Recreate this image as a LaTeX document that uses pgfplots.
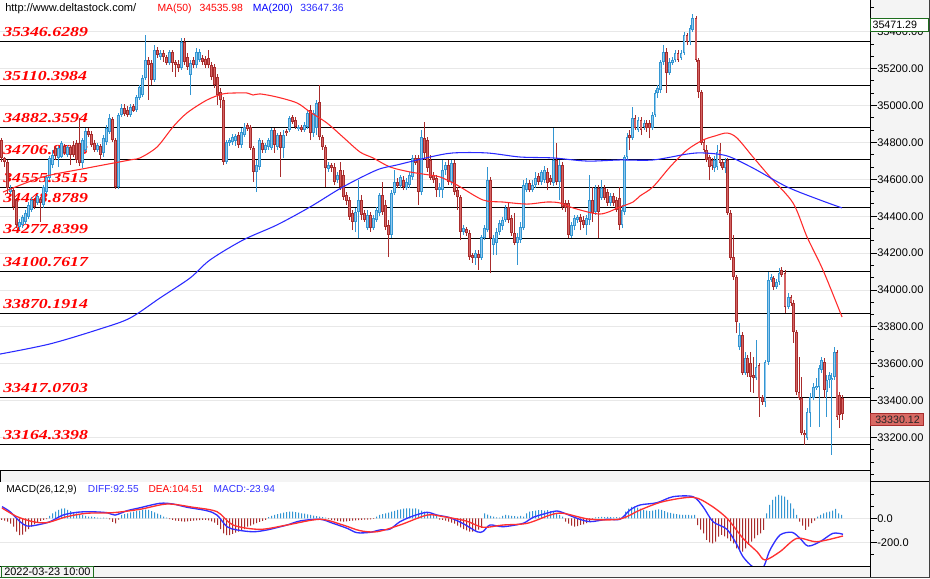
\documentclass[border=0pt]{standalone}
\usepackage{pgfplots}
\pgfplotsset{compat=1.18}
\usepackage{pgfplotstable}
\usepackage{fontspec}
\setmainfont{Liberation Sans}
\newfontfamily\lvlfont[FakeStretch=1.3]{Liberation Serif}

\definecolor{cup}{HTML}{3396D2}
\definecolor{cupfill}{HTML}{92C9EE}
\definecolor{cdn}{HTML}{A82C2C}
\definecolor{cdnfill}{HTML}{D46464}
\definecolor{ma50}{HTML}{FF2A2A}
\definecolor{ma200}{HTML}{2A2AFF}
\definecolor{panel}{HTML}{F4F4F4}
\definecolor{gridc}{HTML}{E8E8E8}
\definecolor{diffc}{HTML}{3030FF}
\definecolor{deac}{HTML}{FF3030}
\definecolor{boxgreen}{HTML}{1E6E1E}
\definecolor{pricebox}{HTML}{D96A64}

% candles: x (pixel column), open, high, low, close
\pgfplotstableread{
x o h l c
1.5 34813 34824 34694 34716
4.5 34716 34721 34667 34694
7.5 34694 34705 34521 34553
10.5 34531 34569 34521 34553
13.5 34542 34553 34434 34450
16.5 34488 34499 34336 34353
19.5 34342 34385 34325 34369
22.5 34353 34407 34336 34396
25.5 34369 34434 34358 34418
28.5 34396 34477 34385 34461
31.5 34434 34504 34423 34488
34.5 34488 34499 34439 34450
37.5 34472 34521 34461 34510
40.5 34493 34504 34369 34472
43.5 34461 34569 34445 34558
46.5 34531 34623 34521 34613
49.5 34607 34726 34596 34716
52.5 34678 34759 34661 34732
55.5 34770 34781 34705 34726
58.5 34716 34781 34667 34770
61.5 34721 34808 34716 34797
64.5 34781 34792 34732 34743
67.5 34732 34786 34721 34775
70.5 34775 34786 34678 34732
73.5 34786 34808 34721 34732
76.5 34797 34813 34688 34705
79.5 34797 34932 34672 34688
82.5 34688 34824 34661 34813
85.5 34759 34878 34748 34862
88.5 34862 34878 34829 34840
91.5 34846 34862 34775 34786
94.5 34797 34813 34748 34759
97.5 34759 34797 34748 34786
100.5 34781 34792 34705 34732
103.5 34743 34840 34721 34824
106.5 34802 34894 34786 34878
109.5 34857 34954 34846 34932
112.5 34927 34938 34802 34813
115.5 34813 34824 34548 34559
118.5 34559 34960 34548 34949
121.5 34949 35008 34938 34987
124.5 34987 35008 34943 34954
127.5 34976 34997 34938 34949
130.5 34949 35008 34938 34992
133.5 34997 35008 34965 34970
136.5 34976 35057 34965 35046
139.5 35041 35111 35030 35100
142.5 35057 35166 35046 35149
145.5 35149 35382 35138 35247
148.5 35247 35263 35030 35220
151.5 35231 35247 35111 35138
154.5 35138 35328 35128 35301
157.5 35301 35317 35258 35274
160.5 35263 35301 35247 35285
163.5 35285 35301 35236 35263
166.5 35263 35274 35220 35231
169.5 35231 35301 35220 35290
172.5 35290 35301 35182 35231
175.5 35236 35247 35155 35220
178.5 35225 35247 35182 35203
181.5 35203 35366 35193 35344
184.5 35344 35366 35220 35236
187.5 35263 35285 35193 35209
190.5 35166 35247 35057 35231
193.5 35247 35263 35203 35220
196.5 35220 35312 35203 35290
199.5 35247 35306 35236 35290
202.5 35258 35274 35220 35236
205.5 35252 35268 35203 35220
208.5 35258 35301 35203 35220
211.5 35220 35236 35138 35155
214.5 35209 35225 35095 35111
217.5 35155 35171 35003 35057
220.5 35073 35095 34987 35030
223.5 35030 35046 34678 34694
226.5 34694 34813 34683 34802
229.5 34797 34824 34781 34813
232.5 34802 34846 34786 34829
235.5 34808 34846 34781 34835
238.5 34840 34857 34770 34786
241.5 34786 34878 34770 34857
244.5 34840 34905 34829 34884
247.5 34894 34905 34862 34873
250.5 34884 34894 34759 34770
253.5 34770 34781 34586 34640
256.5 34640 34705 34531 34678
259.5 34667 34824 34651 34813
262.5 34797 34813 34743 34759
265.5 34759 34797 34743 34786
268.5 34775 34824 34759 34813
271.5 34770 34878 34759 34867
274.5 34867 34878 34743 34786
277.5 34775 34851 34759 34840
280.5 34840 34857 34613 34770
283.5 34770 34867 34716 34840
286.5 34862 34873 34835 34851
289.5 34867 34943 34857 34932
292.5 34938 34949 34900 34911
295.5 34922 34938 34873 34884
298.5 34873 34894 34862 34884
301.5 34884 34894 34857 34867
304.5 34867 34911 34857 34894
307.5 34884 34976 34873 34960
310.5 34976 35003 34813 34851
313.5 34851 34976 34829 34960
316.5 34878 35030 34840 35014
319.5 35019 35111 34813 34829
322.5 34829 34840 34759 34775
325.5 34775 34786 34559 34661
328.5 34656 34694 34640 34678
331.5 34678 34688 34640 34661
334.5 34667 34688 34569 34586
337.5 34596 34640 34580 34623
340.5 34651 34694 34542 34559
343.5 34623 34651 34488 34504
346.5 34515 34531 34461 34483
349.5 34488 34504 34380 34396
352.5 34417 34434 34325 34369
355.5 34369 34445 34315 34423
358.5 34423 34596 34282 34488
361.5 34488 34515 34380 34407
364.5 34417 34434 34369 34380
367.5 34336 34434 34325 34407
370.5 34407 34423 34315 34336
373.5 34336 34407 34325 34390
376.5 34380 34450 34369 34434
379.5 34417 34526 34401 34515
382.5 34515 34586 34407 34423
385.5 34461 34488 34325 34342
388.5 34353 34380 34179 34298
391.5 34298 34542 34282 34526
394.5 34526 34651 34515 34586
397.5 34586 34607 34553 34564
400.5 34564 34623 34553 34613
403.5 34596 34618 34542 34559
406.5 34553 34607 34542 34586
409.5 34569 34640 34553 34623
412.5 34613 34732 34596 34716
415.5 34716 34732 34678 34688
418.5 34716 34732 34461 34531
421.5 34531 34867 34515 34829
424.5 34824 34911 34705 34743
427.5 34813 34829 34640 34661
430.5 34705 34732 34596 34607
433.5 34623 34640 34580 34596
436.5 34607 34623 34504 34542
439.5 34542 34580 34504 34559
442.5 34542 34705 34499 34651
445.5 34651 34694 34623 34678
448.5 34678 34705 34569 34586
451.5 34586 34705 34569 34688
454.5 34688 34705 34515 34531
457.5 34542 34559 34434 34504
460.5 34504 34515 34271 34315
463.5 34315 34353 34298 34336
466.5 34331 34342 34293 34309
469.5 34309 34325 34163 34179
472.5 34190 34201 34147 34174
475.5 34174 34217 34136 34201
478.5 34195 34217 34109 34174
481.5 34174 34298 34163 34287
484.5 34282 34353 34271 34336
487.5 34325 34667 34315 34596
490.5 34596 34613 34092 34282
493.5 34244 34298 34190 34282
496.5 34255 34336 34190 34315
499.5 34315 34380 34298 34363
502.5 34347 34396 34325 34380
505.5 34380 34461 34369 34445
508.5 34450 34472 34363 34380
511.5 34390 34407 34293 34309
514.5 34309 34417 34244 34255
517.5 34255 34309 34136 34287
520.5 34271 34369 34255 34342
523.5 34336 34596 34325 34569
526.5 34542 34607 34531 34580
529.5 34580 34596 34531 34542
532.5 34542 34596 34531 34569
535.5 34569 34640 34553 34607
538.5 34618 34634 34569 34586
541.5 34586 34651 34569 34640
544.5 34596 34672 34580 34651
547.5 34640 34661 34542 34580
550.5 34607 34623 34569 34586
553.5 34580 34878 34564 34705
556.5 34705 34797 34569 34586
559.5 34586 34705 34488 34678
562.5 34678 34694 34434 34450
565.5 34472 34488 34423 34445
568.5 34472 34488 34282 34298
571.5 34293 34369 34282 34353
574.5 34347 34407 34325 34390
577.5 34380 34407 34363 34396
580.5 34396 34412 34325 34369
583.5 34380 34401 34336 34353
586.5 34353 34407 34298 34390
589.5 34380 34623 34353 34488
592.5 34488 34559 34369 34417
595.5 34423 34569 34407 34553
598.5 34553 34569 34282 34423
601.5 34499 34596 34488 34553
604.5 34553 34569 34488 34499
607.5 34531 34548 34456 34472
610.5 34472 34526 34456 34510
613.5 34510 34526 34456 34472
616.5 34488 34504 34423 34434
619.5 34499 34559 34325 34353
622 34353 34461 34336 34434
624.7 34423 34732 34407 34721
627 34721 34851 34705 34829
629.5 34840 34867 34759 34824
632.3 34824 34992 34813 34932
635 34932 34949 34867 34878
638 34867 34938 34857 34922
641 34922 34938 34840 34867
644 34884 34922 34867 34905
646.7 34905 34922 34857 34878
649.3 34905 34922 34824 34878
652.3 34878 34965 34867 34949
655 34949 35084 34938 35068
657.7 35068 35111 35041 35095
660.3 35084 35247 35068 35236
663.3 35236 35328 35220 35290
666.5 35290 35312 35068 35176
669.5 35176 35258 35166 35236
672.3 35231 35263 35220 35247
675 35247 35301 35236 35285
678 35285 35301 35236 35247
681 35258 35301 35247 35285
684 35285 35399 35274 35382
687 35382 35393 35328 35344
690 35344 35436 35328 35420
692.8 35409 35496 35399 35474
696 35474 35485 35236 35247
698.7 35247 35258 35041 35073
701.3 35073 35084 34786 34797
704 34802 34813 34748 34759
706.7 34759 34786 34694 34705
709.3 34721 34732 34596 34667
712 34705 34716 34651 34672
714.5 34661 34726 34640 34705
717 34667 34786 34651 34748
720 34759 34797 34672 34688
722.7 34694 34705 34651 34661
725.2 34661 34716 34634 34694
727.7 34705 34716 34407 34417
730.3 34417 34434 34163 34174
733.3 34179 34298 34054 34071
736.2 34071 34081 33767 33827
739.3 33691 33821 33675 33756
742.2 33756 33773 33540 33550
745 33550 33664 33540 33632
747.7 33632 33648 33529 33550
750.3 33605 33664 33447 33529
753.3 33540 33637 33442 33523
756 33523 33729 33512 33583
759 33594 33605 33312 33415
762.2 33420 33431 33377 33393
765 33393 33621 33366 33610
768.3 33610 34098 33594 34054
771.3 34054 34087 34044 34071
773.8 34065 34076 34000 34016
776.3 34016 34060 34006 34044
779 34044 34119 34027 34092
781.8 34109 34125 34071 34081
785 34092 34109 33875 33908
788.3 33908 33984 33897 33962
791 33962 33973 33913 33930
793.5 33930 33946 33713 33773
796.2 33773 33783 33431 33447
799 33447 33637 33404 33415
801.7 33415 33529 33214 33225
804.3 33225 33241 33160 33214
807 33198 33361 33187 33339
810 33333 33442 33258 33420
813.3 33415 33496 33404 33474
816.3 33469 33523 33458 33480
819 33474 33594 33258 33577
821.7 33567 33637 33550 33621
824.3 33610 33632 33415 33458
826.9 33447 33540 33312 33512
829.4 33512 33556 33469 33540
831.9 33512 33550 33106 33523
834.4 33529 33691 33512 33664
837 33664 33675 33296 33312
839.6 33431 33448 33252 33323
842.3 33415 33431 33296 33330
}\candles

\pgfplotstableread{
x v
3 34531
43 34613
87 34661
130 34705
140 34716
157 34775
173 34884
187 34960
207 35030
223 35063
235 35068
247 35068
253 35057
260 35063
277 35046
297 35014
310 34965
327 34905
343 34829
360 34748
373 34716
390 34667
410 34640
430 34623
440 34613
457 34569
483 34488
503 34477
527 34466
547 34477
560 34472
573 34445
600 34412
620 34450
633 34477
640 34510
653 34559
670 34667
687 34759
703 34813
715 34835
727 34851
737 34824
753 34721
770 34613
793 34472
807 34288
823 34108
842 33854
}\maA

\pgfplotstableread{
x v
0 33653
50 33708
100 33789
130 33848
160 33957
190 34065
210 34163
243 34271
277 34353
310 34450
343 34559
377 34651
397 34678
430 34721
453 34743
487 34743
520 34721
553 34716
587 34699
620 34705
653 34705
687 34737
703 34743
727 34727
753 34661
787 34559
820 34488
842 34445
}\maB

\pgfplotstableread{
x v
2 97
10 55
20 -28
27 -64
37 -56
50 -28
63 27
77 50
90 55
107 47
115 27
127 63
140 88
160 125
173 119
187 92
207 63
217 27
227 -70
237 -97
253 -112
267 -97
287 -56
300 -22
320 -8
333 -42
347 -83
357 -120
370 -117
380 -97
390 -90
400 -28
413 19
427 50
437 27
450 5
464 -48
477 -112
483 -110
490 -56
503 -70
523 -42
533 8
550 50
557 61
563 47
577 0
590 -28
607 -8
620 -8
630 69
640 111
657 130
673 180
693 180
703 97
713 -28
727 -92
737 -222
743 -320
753 -405
763 -410
770 -264
780 -139
792 -117
800 -167
808 -231
820 -195
833 -125
843 -133
}\diff

\pgfplotstableread{
x v
2 86
17 14
33 -28
47 -36
67 14
87 42
113 47
140 75
167 119
193 92
217 55
233 -56
260 -92
287 -56
320 -8
343 -56
360 -103
377 -112
400 -56
427 27
443 14
466 -22
483 -75
503 -56
527 -42
550 27
563 42
590 -8
620 -6
640 69
663 139
693 175
710 111
727 0
743 -167
757 -278
765 -347
780 -278
797 -167
817 -195
843 -147
}\dea

\pgfplotstableread{
x v
1.5 -14
4.5 -20
7.5 -28
10.5 -45
13.5 -70
16.5 -110
19.5 -140
22.5 -135
25.5 -110
28.5 -90
31.5 -70
34.5 -50
37.5 -35
40.5 -22
43.5 -14
46.5 -6
49.5 20
52.5 42
55.5 55
58.5 70
61.5 80
64.5 83
67.5 70
70.5 60
73.5 50
76.5 42
79.5 35
82.5 28
85.5 20
88.5 14
91.5 14
94.5 10
97.5 6
100.5 4
103.5 5
106.5 3
109.5 -8
112.5 -30
115.5 -42
118.5 -10
121.5 28
124.5 35
127.5 42
130.5 50
133.5 55
136.5 60
139.5 65
142.5 70
145.5 72
148.5 70
151.5 60
154.5 50
157.5 40
160.5 28
163.5 14
166.5 6
169.5 -6
172.5 -14
175.5 -20
178.5 -22
181.5 -25
184.5 -28
187.5 -25
190.5 -22
193.5 -20
196.5 -18
199.5 -16
202.5 -14
205.5 -14
208.5 -18
211.5 -25
214.5 -35
217.5 -55
220.5 -90
223.5 -125
226.5 -140
229.5 -140
232.5 -130
235.5 -120
238.5 -110
241.5 -100
244.5 -90
247.5 -70
250.5 -60
253.5 -50
256.5 -40
259.5 -30
262.5 -22
265.5 -14
268.5 10
271.5 20
274.5 28
277.5 35
280.5 42
283.5 48
286.5 52
289.5 55
292.5 55
295.5 52
298.5 48
301.5 42
304.5 38
307.5 32
310.5 28
313.5 22
316.5 18
319.5 14
322.5 10
325.5 6
328.5 -6
331.5 -14
334.5 -18
337.5 -22
340.5 -25
343.5 -28
346.5 -25
349.5 -22
352.5 -20
355.5 -18
358.5 -16
361.5 -14
364.5 -12
367.5 -10
370.5 -8
373.5 -5
376.5 14
379.5 28
382.5 35
385.5 42
388.5 48
391.5 55
394.5 62
397.5 70
400.5 75
403.5 80
406.5 83
409.5 83
412.5 80
415.5 83
418.5 75
421.5 65
424.5 55
427.5 45
430.5 35
433.5 28
436.5 18
439.5 -10
442.5 -14
445.5 -20
448.5 -28
451.5 -35
454.5 -45
457.5 -60
460.5 -75
463.5 -90
466.5 -100
469.5 -111
472.5 -111
475.5 -105
478.5 -95
481.5 -80
484.5 42
487.5 30
490.5 20
493.5 14
496.5 8
499.5 6
502.5 20
505.5 28
508.5 25
511.5 20
514.5 18
517.5 14
520.5 20
523.5 14
526.5 42
529.5 55
532.5 60
535.5 65
538.5 69
541.5 69
544.5 65
547.5 69
550.5 60
553.5 55
556.5 42
559.5 28
562.5 14
565.5 -28
568.5 -45
571.5 -60
574.5 -69
577.5 -65
580.5 -55
583.5 -50
586.5 -40
589.5 -28
592.5 -14
595.5 8
598.5 10
601.5 12
604.5 10
607.5 12
610.5 10
613.5 8
616.5 10
619.5 8
622.5 12
625.5 55
628.5 80
631.5 95
634.5 97
637.5 90
640.5 80
643.5 70
646.5 65
649.5 60
652.5 65
655.5 70
658.5 75
661.5 70
664.5 60
667.5 50
670.5 45
673.5 40
676.5 35
679.5 30
682.5 28
685.5 28
688.5 28
691.5 25
694.5 28
697.5 -56
700.5 -95
703.5 -125
706.5 -180
709.5 -200
712.5 -208
715.5 -195
718.5 -153
721.5 -139
724.5 -150
727.5 -167
730.5 -190
733.5 -208
736.5 -250
739.5 -264
742.5 -278
745.5 -250
748.5 -222
751.5 -195
754.5 -167
757.5 -140
760.5 -125
763.5 -97
766.5 42
769.5 111
772.5 153
775.5 180
778.5 195
781.5 190
784.5 180
787.5 153
790.5 125
793.5 80
796.5 28
799.5 -28
802.5 -60
805.5 -97
808.5 -70
811.5 -40
814.5 -20
817.5 14
820.5 28
823.5 42
826.5 50
829.5 55
832.5 65
835.5 78
838.5 42
841.5 28
}\hist

\def\isup{\thisrow{c}>\thisrow{o}}
\tikzset{lvl/.style={anchor=base west, inner sep=0pt, text=red, yshift=3.75pt,
  font={\lvlfont\bfseries\itshape\fontsize{10.3}{12}\selectfont}}}
\pgfplotsset{
  cbar/.style 2 args={draw=none, forget plot,
    error bars/.cd, y dir=plus, y explicit, error mark=none,
    error bar style={draw=#1, line width=#2}},
  rticks/.style={
    scale only axis, width=652.5pt,
    xmin=0, xmax=870, xtick=\empty,
    axis line style={draw=none},
    ytick pos=right, yticklabel pos=right,
    tick align=outside,
    major tick length=5.25pt, minor tick length=3pt,
    tick style={black, line width=0.75pt},
    ymajorgrids, major grid style={gridc, line width=0.75pt},
    scaled y ticks=false,
    /pgf/number format/assume math mode=true,
    extra y tick labels={},
    extra y tick style={grid=none, major tick length=3pt},
  },
}

\begin{document}
\begin{tikzpicture}[x=0.75pt,y=0.75pt]
\path[use as bounding box] (0,0) rectangle (930,578);
\fill[white] (0,0) rectangle (930,578);
\fill[panel] (870,0) rectangle (930,578);
\fill[panel] (0,96.3) rectangle (870,107.5);
\fill[panel] (0,0) rectangle (870,12);

% price panel
\begin{axis}[rticks,
  at={(0pt,72.225pt)}, anchor=south west, height=361.275pt,
  ymin=32961.2, ymax=35572,
  ytick={33200,33400,...,35400},
  minor y tick num=2,
  extra y ticks={33000,33066.67,33133.33,35466.67,35533.33},
  yticklabel style={font=\fontsize{8.3}{10}\selectfont, anchor=west, inner sep=0pt,
    /pgf/number format/.cd, fixed, fixed zerofill, precision=2, 1000 sep={}},
]
\node[lvl] at (axis cs:3,35346.6289) {35346.6289};
\node[lvl] at (axis cs:3,35110.3984) {35110.3984};
\node[lvl] at (axis cs:3,34882.3594) {34882.3594};
\node[lvl] at (axis cs:3,34706.8593) {34706.8593};
\node[lvl] at (axis cs:3,34555.3515) {34555.3515};
\node[lvl] at (axis cs:3,34448.8789) {34448.8789};
\node[lvl] at (axis cs:3,34277.8399) {34277.8399};
\node[lvl] at (axis cs:3,34100.7617) {34100.7617};
\node[lvl] at (axis cs:3,33870.1914) {33870.1914};
\node[lvl] at (axis cs:3,33417.0703) {33417.0703};
\node[lvl] at (axis cs:3,33164.3398) {33164.3398};

\addplot[black, line width=0.75pt, forget plot] coordinates {(0,35346.6289) (870,35346.6289)};
\addplot[black, line width=0.75pt, forget plot] coordinates {(0,35110.3984) (870,35110.3984)};
\addplot[black, line width=0.75pt, forget plot] coordinates {(0,34882.3594) (870,34882.3594)};
\addplot[black, line width=0.75pt, forget plot] coordinates {(0,34706.8593) (870,34706.8593)};
\addplot[black, line width=0.75pt, forget plot] coordinates {(0,34555.3515) (870,34555.3515)};
\addplot[black, line width=0.75pt, forget plot] coordinates {(0,34448.8789) (870,34448.8789)};
\addplot[black, line width=0.75pt, forget plot] coordinates {(0,34277.8399) (870,34277.8399)};
\addplot[black, line width=0.75pt, forget plot] coordinates {(0,34100.7617) (870,34100.7617)};
\addplot[black, line width=0.75pt, forget plot] coordinates {(0,33870.1914) (870,33870.1914)};
\addplot[black, line width=0.75pt, forget plot] coordinates {(0,33417.0703) (870,33417.0703)};
\addplot[black, line width=0.75pt, forget plot] coordinates {(0,33164.3398) (870,33164.3398)};

% wicks
\addplot[cbar={cup}{0.75pt}] table[x expr={\isup ? \thisrow{x} : nan}, y=l,
  y error plus expr={\thisrow{h}-\thisrow{l}}] {\candles};
\addplot[cbar={cdn}{0.75pt}] table[x expr={\isup ? nan : \thisrow{x}}, y=l,
  y error plus expr={\thisrow{h}-\thisrow{l}}] {\candles};
% bodies, rising
\addplot[cbar={cup}{2.1pt}] table[x expr={\isup ? \thisrow{x} : nan}, y=o,
  y error plus expr={max(\thisrow{c}-\thisrow{o},5)}] {\candles};
\addplot[cbar={cupfill}{0.75pt}] table[x expr={\isup ? \thisrow{x} : nan}, y expr={\thisrow{o}+4},
  y error plus expr={max(\thisrow{c}-\thisrow{o}-8,0)}] {\candles};
% bodies, falling
\addplot[cbar={cdn}{2.1pt}] table[x expr={\isup ? nan : \thisrow{x}}, y=c,
  y error plus expr={max(\thisrow{o}-\thisrow{c},5)}] {\candles};
\addplot[cbar={cdnfill}{0.8pt}] table[x expr={\isup ? nan : \thisrow{x}}, y expr={\thisrow{c}+4},
  y error plus expr={max(\thisrow{o}-\thisrow{c}-8,0)}] {\candles};

% moving averages
\addplot[ma50, line width=0.8pt, smooth, tension=0.5, forget plot] table[x=x, y=v] {\maA};
\addplot[ma200, line width=0.8pt, smooth, tension=0.5, forget plot] table[x=x, y=v] {\maB};
\end{axis}

% MACD panel
\begin{axis}[rticks,
  at={(0pt,9pt)}, anchor=south west, height=63.225pt,
  ymin=-397.5, ymax=305,
  ytick={-200,0},
  extra y ticks={-300,-100,100,200},
  yticklabel style={font=\fontsize{8.3}{10}\selectfont, anchor=west, inner sep=0pt,
    /pgf/number format/.cd, fixed, fixed zerofill, precision=1, 1000 sep={}},
]
\addplot[ybar, bar width=0.75pt, bar shift=0pt, fill=cup, draw=none, forget plot]
  table[x=x, y expr={\thisrow{v}>0 ? \thisrow{v} : nan}] {\hist};
\addplot[ybar, bar width=0.75pt, bar shift=0pt, fill=cdn, draw=none, forget plot]
  table[x=x, y expr={\thisrow{v}<0 ? \thisrow{v} : nan}] {\hist};
\addplot[diffc, line width=1pt, smooth, tension=0.5, forget plot] table[x=x, y=v] {\diff};
\addplot[deac, line width=1pt, smooth, tension=0.5, forget plot] table[x=x, y=v] {\dea};
\end{axis}

% frame lines
\draw[black, line width=0.75pt] (870.4,0) -- (870.4,578);
\draw[black, line width=0.75pt] (0,107.5) -- (870.4,107.5);
\draw[black, line width=0.75pt] (870.4,96.3) -- (930,96.3);
\draw[black, line width=0.75pt] (0,12) -- (870.4,12);
\draw[black, line width=0.75pt] (0.4,96.3) -- (0.4,107.5);
\draw[black!75, line width=0.75pt] (929.4,0) -- (929.4,578);
\draw[black!75, line width=0.75pt] (0,0.4) -- (930,0.4);

% header texts
\begin{scope}[every node/.style={anchor=base west, inner sep=0pt}]
\node[font=\fontsize{8.3}{10}\selectfont] at (5,566) {http://www.deltastock.com/};
\node[font=\fontsize{7.8}{10}\selectfont, text=red] at (157.3,566) {MA(50)};
\node[font=\fontsize{7.8}{10}\selectfont, text=red] at (199.3,566) {34535.98};
\node[font=\fontsize{7.8}{10}\selectfont, text=blue] at (252.7,566) {MA(200)};
\node[font=\fontsize{7.8}{10}\selectfont, text=ma200] at (300,566) {33647.36};
\node[font=\fontsize{7.6}{10}\selectfont] at (6,86) {MACD(26,12,9)};
\node[font=\fontsize{7.6}{10}\selectfont, text=diffc] at (87.7,86) {DIFF:92.55};
\node[font=\fontsize{7.6}{10}\selectfont, text=red] at (148.3,86) {DEA:104.51};
\node[font=\fontsize{7.6}{10}\selectfont, text=diffc] at (213.3,86) {MACD:-23.94};
\end{scope}

% price boxes
\filldraw[fill=white, draw=boxgreen, line width=0.75pt] (870.8,546.3) rectangle (928.6,559.3);
\node[anchor=west, inner sep=0pt, font=\fontsize{8}{10}\selectfont] at (872.3,552.8) {35471.29};
\filldraw[fill=pricebox, draw=cdn, line width=0.75pt] (870.8,152) rectangle (923.3,164);
\node[anchor=west, inner sep=0pt, font=\fontsize{8}{10}\selectfont, text=black!85] at (875,158) {33330.12};

% date box
\filldraw[fill=panel, draw=boxgreen, line width=0.75pt] (1.4,0.8) rectangle (93,11.6);
\node[anchor=base west, inner sep=0pt, font=\fontsize{8.2}{10}\selectfont] at (4,3) {2022-03-23 10:00};
\end{tikzpicture}
\end{document}
